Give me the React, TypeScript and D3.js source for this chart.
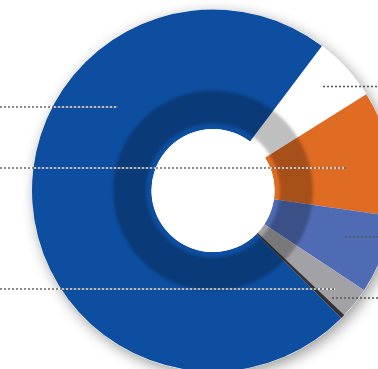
import React, { useMemo } from "react";
import * as d3 from "d3";

const categories = ["White", "Orange", "Violet", "Gray", "Dark", "Blue"];
const values = [5.8, 11.2, 7.0, 2.8, 0.4, 72.8];
const colors = ["#FFFFFF", "#E06B23", "#4F6BB4", "#A2A2A6", "#333333", "#0D4EA0"];
const leftLeaderY = [107, 168, 289];
const leftLeaderEnd = [118, 346, 335];
const rightLeaderY = [86.5, 237, 298];
const rightLeaderStart = [323, 345, 332];

const W = 378;
const H = 369;
const cx = 213;
const cy = 190.5;
const R = 181;
const r0 = 61.5;

export default function App() {
  const arcs = useMemo(() => {
    const pie = d3
      .pie<number>()
      .sort(null)
      .startAngle((37 * Math.PI) / 180)
      .endAngle((37 * Math.PI) / 180 + 2 * Math.PI);
    return pie(values);
  }, []);
  const arc = d3.arc<d3.PieArcDatum<number>>().innerRadius(r0).outerRadius(R);
  const ring = d3.arc<any>()({ innerRadius: 67, outerRadius: 100, startAngle: 0, endAngle: 2 * Math.PI }) as string;
  const donutMask = d3.arc<any>()({ innerRadius: r0, outerRadius: R, startAngle: 0, endAngle: 2 * Math.PI }) as string;

  return (
    <svg width={W} height={H} style={{ position: "fixed", left: 0, top: 0 }}>
      <defs>
        <filter id="shadow" x="-20%" y="-20%" width="140%" height="140%">
          <feDropShadow dx="3" dy="4" stdDeviation="7" floodColor="#000" floodOpacity="0.4" />
        </filter>
        <filter id="soft" x="-20%" y="-20%" width="140%" height="140%">
          <feGaussianBlur stdDeviation="1.6" />
        </filter>
        <clipPath id="donutClip">
          <path d={donutMask} transform={`translate(${cx},${cy})`} />
        </clipPath>
      </defs>
      <rect width={W} height={H} fill="#fff" />
      <g transform={`translate(${cx},${cy})`}>
        <circle r={R} fill="#fff" filter="url(#shadow)" />
        {arcs.map((a, i) => (
          <path key={categories[i]} d={arc(a) as string} fill={colors[i]} />
        ))}
        <circle r={r0} fill="#fff" />
      </g>
      <g clipPath="url(#donutClip)">
        <g transform={`translate(${cx},${cy})`}>
          <path d={ring} fill="#000" fillOpacity={0.25} filter="url(#soft)" />
        </g>
      </g>
      {leftLeaderY.map((y, i) => (
        <g key={"l" + i}>
          <line x1={0} x2={leftLeaderEnd[i]} y1={y} y2={y} stroke="#666" strokeWidth={1.5} strokeDasharray="2,2" />
          <line x1={2} x2={leftLeaderEnd[i]} y1={y} y2={y} stroke="#ffffff" strokeOpacity={0.85} strokeWidth={1.5} strokeDasharray="2,2" />
        </g>
      ))}
      {rightLeaderY.map((y, i) => (
        <line key={"r" + i} x1={rightLeaderStart[i]} x2={W} y1={y} y2={y} stroke="#555" strokeWidth={1.5} strokeDasharray="2,2" />
      ))}
    </svg>
  );
}
